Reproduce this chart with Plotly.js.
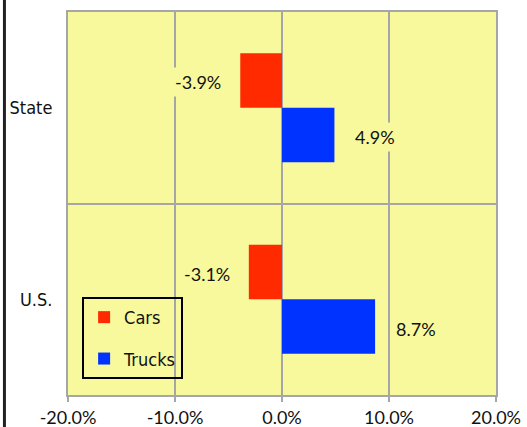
<!DOCTYPE html>
<html>
<head>
<meta charset="utf-8">
<script src="https://cdn.plot.ly/plotly-3.0.1.min.js"></script>
<style>
html,body{margin:0;padding:0;background:#fff;}
#chart{width:527px;height:427px;}
</style>
</head>
<body>
<div id="chart"></div>
<script>
// Categories (bottom to top in Plotly's horizontal bar order)
const categories = ["U.S.", "State"];
const carsValues = [-3.1, -3.9];
const trucksValues = [8.7, 4.9];
const seriesNames = ["Cars", "Trucks"];
const xTickValues = [-20, -10, 0, 10, 20];
const xTickLabels = ["-20.0%", "-10.0%", "0.0%", "10.0%", "20.0%"];

const carsColor = "#FF2A00";
const trucksColor = "#0033FF";
const plotBg = "#F8F99C";
const gridColor = "#A6A6A6";
const bargap = 0.43;
const barHalf = (1 - bargap) / 4;
const condensed = "DejaVu Sans Condensed, Liberation Sans Narrow, sans-serif";

const trucks = {
  type: "bar", orientation: "h", name: seriesNames[1],
  y: categories, x: trucksValues,
  marker: {color: trucksColor, line: {width: 0}},
  legendgroup: "b", legendrank: 2, hoverinfo: "x+y"
};
const cars = {
  type: "bar", orientation: "h", name: seriesNames[0],
  y: categories, x: carsValues,
  marker: {color: carsColor, line: {width: 0}},
  legendgroup: "a", legendrank: 1, hoverinfo: "x+y"
};

const labelFont = {family: "Lato, sans-serif", size: 18, color: "#111"};
const annotations = [];
categories.forEach((c, i) => {
  const cv = carsValues[i], tv = trucksValues[i];
  annotations.push({
    x: cv, y: i + barHalf, xref: "x", yref: "y",
    text: cv.toFixed(1) + "%", showarrow: false,
    xanchor: cv < 0 ? "right" : "left", xshift: cv < 0 ? -15 : 17,
    yshift: -2,
    font: labelFont, bgcolor: plotBg, borderpad: 3
  });
  annotations.push({
    x: tv, y: i - barHalf, xref: "x", yref: "y",
    text: tv.toFixed(1) + "%", showarrow: false,
    xanchor: tv < 0 ? "right" : "left", xshift: tv < 0 ? -15 : 17,
    yshift: -2,
    font: labelFont, bgcolor: plotBg, borderpad: 3
  });
});

const layout = {
  width: 527, height: 427,
  margin: {l: 68, r: 31, t: 12, b: 32, pad: 0},
  paper_bgcolor: "#ffffff",
  plot_bgcolor: plotBg,
  barmode: "group",
  bargap: bargap,
  bargroupgap: 0,
  showlegend: true,
  legend: {
    x: 0.033, y: 0.256, xanchor: "left", yanchor: "top",
    bgcolor: "rgba(0,0,0,0)", bordercolor: "#000", borderwidth: 2,
    traceorder: "grouped", tracegroupgap: 15,
    font: {family: condensed, size: 18, color: "#111"}
  },
  xaxis: {
    range: [-20, 20], tickmode: "array", tickvals: xTickValues, ticktext: xTickLabels,
    showgrid: true, gridcolor: gridColor, gridwidth: 2,
    zeroline: true, zerolinecolor: gridColor, zerolinewidth: 2,
    showline: true, linecolor: gridColor, linewidth: 2, mirror: true,
    ticks: "outside", ticklen: 5, tickwidth: 2, tickcolor: gridColor,
    tickfont: {family: "Lato, sans-serif", size: 18, color: "#111"},
    fixedrange: true
  },
  yaxis: {
    type: "category", categoryorder: "array", categoryarray: categories,
    range: [-0.5, 1.5], tickson: "boundaries",
    showgrid: true, gridcolor: gridColor, gridwidth: 2,
    showline: true, linecolor: gridColor, linewidth: 2, mirror: true,
    ticks: "", ticklabelstandoff: 10,
    tickfont: {family: condensed, size: 18, color: "#111"},
    fixedrange: true
  },
  annotations: annotations,
  shapes: [{
    type: "line", xref: "paper", yref: "paper",
    x0: -0.1485, x1: -0.1485, y0: -0.2, y1: 1.2,
    line: {color: "#222", width: 3}
  }]
};

Plotly.newPlot("chart", [trucks, cars], layout, {displayModeBar: false, staticPlot: true});
</script>
</body>
</html>
